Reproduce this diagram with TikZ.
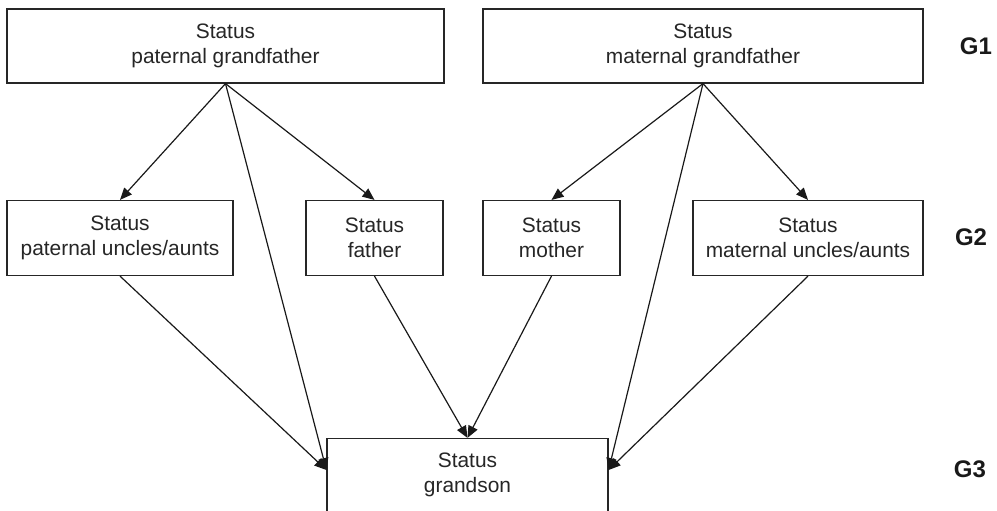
\documentclass[tikz,border=0pt]{standalone}
\usepackage{fontspec}
\setmainfont{Liberation Sans}
\usetikzlibrary{arrows.meta, positioning, calc}

\begin{document}
\begin{tikzpicture}[x=1pt, y=-1pt,
    status/.style={draw=black!85, line width=1.2pt, fill=white, align=center,
                   inner sep=0pt, text=black!85,
                   font=\fontsize{20.9}{25}\selectfont},
    gen/.style={font=\fontsize{24}{28}\selectfont\bfseries, text=black!90},
    link/.style={-{Triangle[length=12pt, width=10pt]}, line width=1.2pt, draw=black!90}]
    \useasboundingbox (0,0) rectangle (997,511);
    % generation 1
    \node[status, minimum width=437pt, minimum height=74pt] (pgf) at (225.5,46) {Status\\paternal grandfather};
    \node[status, minimum width=440pt, minimum height=74pt] (mgf) at (703,46) {Status\\maternal grandfather};
    % generation 2
    \node[status, minimum width=226pt, minimum height=75pt] (pua) at (120,238) {Status\\paternal uncles/aunts};
    \node[status, minimum width=137pt, minimum height=75pt] (fat) at (374.5,238) {Status\\father};
    \node[status, minimum width=137pt, minimum height=75pt] (mot) at (551.5,238) {Status\\mother};
    \node[status, minimum width=230pt, minimum height=75pt] (mua) at (808,238) {Status\\maternal uncles/aunts};
    % generation 3
    \node[status, minimum width=281pt, minimum height=73pt] (gso) at (467.5,475) {Status\\grandson};
    \coordinate (gsoL) at ([yshift=5pt]gso.west);
    \coordinate (gsoR) at ([yshift=5pt]gso.east);
    \node[gen] (g1) at (976,46) {G1};
    \node[gen] (g2) at (971,237) {G2};
    \node[gen] (g3) at (970,469) {G3};
    \draw[link] (pgf.south) -- (pua.north);
    \draw[link] (pgf.south) -- (fat.north);
    \draw[link] (pgf.south) -- (gsoL);
    \draw[link] (mgf.south) -- (mot.north);
    \draw[link] (mgf.south) -- (mua.north);
    \draw[link] (mgf.south) -- (gsoR);
    \draw[link] (pua.south) -- (gsoL);
    \draw[link] (fat.south) -- (gso.north);
    \draw[link] (mot.south) -- (gso.north);
    \draw[link] (mua.south) -- (gsoR);
\end{tikzpicture}
\end{document}
